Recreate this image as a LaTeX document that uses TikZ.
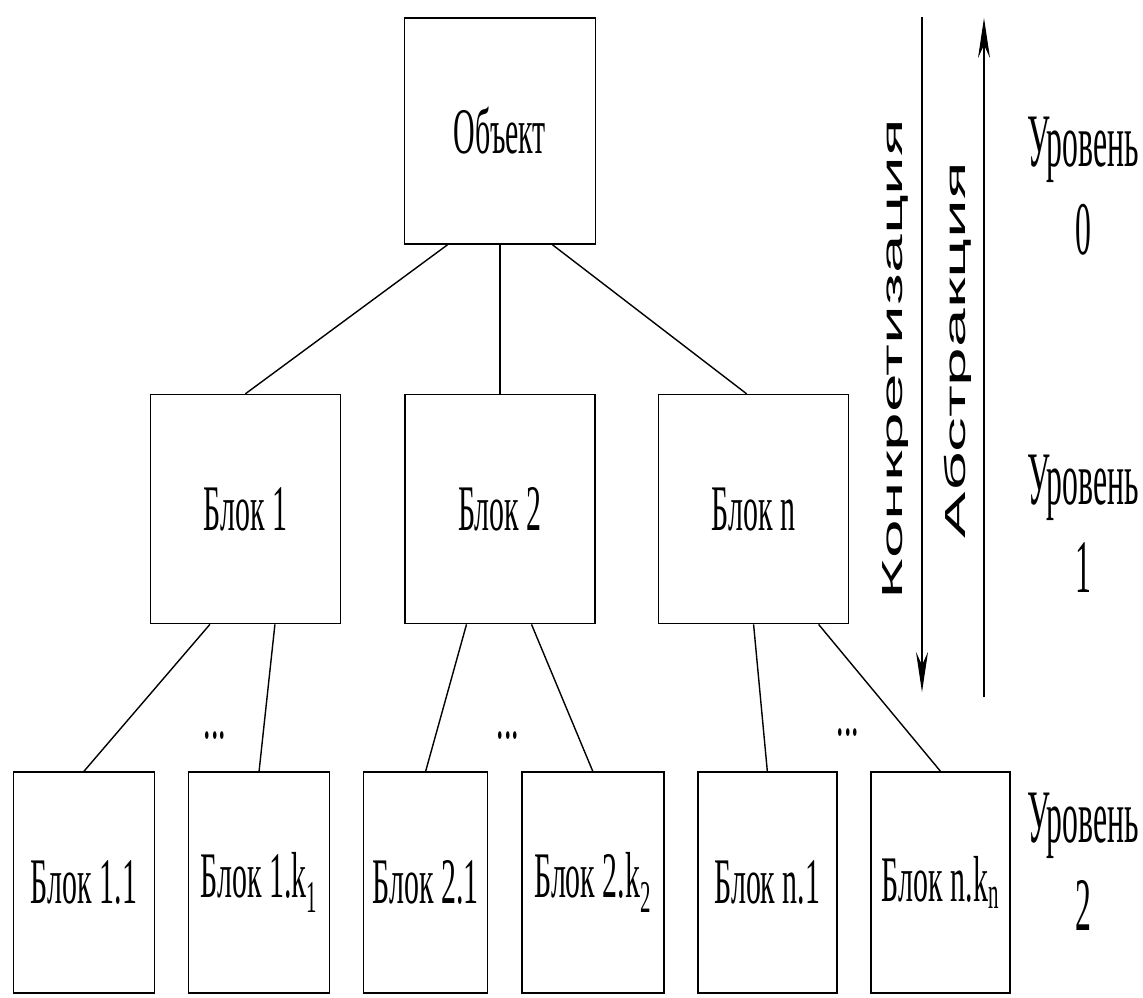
\documentclass[tikz,border=0pt]{standalone}
\usepackage{fontspec}
\setmainfont{Liberation Serif}
\newfontfamily\sansfnt{Liberation Sans}
\usepackage{graphicx}
\usetikzlibrary{arrows.meta,positioning}

\newcommand{\sqz}[2][0.46]{\scalebox{#1}[1]{#2}}
\newcommand{\strch}[1]{\scalebox{2.4}[1]{#1}}

\begin{document}
\begin{tikzpicture}[
    node distance = 0.65cm,
    every node/.style = {align=center},
    blockbox/.style = {draw, line width=0.9pt, inner sep=0pt,
      font=\fontsize{37}{44}\selectfont},
    midbox/.style = {blockbox, minimum width=3.8cm, minimum height=4.58cm},
    leafbox/.style = {blockbox, minimum width=2.82cm, minimum height=4.42cm},
    link/.style = {line width=0.8pt},
    dirlabel/.style = {rotate=90, inner sep=0pt,
      font=\sansfnt\fontsize{16.5}{20}\selectfont},
    levellabel/.style = {inner sep=0pt, font=\fontsize{43}{50}\selectfont},
    >={Stealth[length=8mm,width=2.4mm]}
  ]
  \useasboundingbox (0,0) rectangle (22.86,-19.94);

  % level 0
  \node[blockbox, minimum width=3.82cm, minimum height=4.52cm] (obj) at (10,-2.62) {\sqz{Объект}};

  % level 1
  \node[midbox] (b2) [below=2.98cm of obj] {\sqz{Блок 2}};
  \node[midbox] (b1) [left=1.26cm of b2] {\sqz{Блок 1}};
  \node[midbox] (bn) [right=1.24cm of b2] {\sqz{Блок n}};

  % level 2
  \node[leafbox] (b11) at (1.68,-17.65) {\sqz{Блок 1.1}};
  \node[leafbox] (b1k) [right=of b11] {\sqz{Блок 1.k\textsubscript{1}}};
  \node[leafbox, minimum width=2.48cm] (b21) [right=of b1k] {\sqz{Блок 2.1}};
  \node[leafbox, minimum width=2.84cm] (b2k) [right=of b21] {\sqz{Блок 2.k\textsubscript{2}}};
  \node[leafbox, minimum width=2.78cm] (bn1) [right=of b2k] {\sqz{Блок n.1}};
  \node[leafbox, minimum width=2.78cm] (bnk) [right=of bn1] {\sqz{Блок n.k\textsubscript{n}}};

  \node[blockbox, draw=none] (dots1) at (4.30,-14.72) {\sqz{...}};
  \node[blockbox, draw=none] (dots2) at (10.16,-14.72) {\sqz{...}};
  \node[blockbox, draw=none] (dots3) at (16.96,-14.66) {\sqz{...}};

  \draw[link] ([xshift=-1.05cm]obj.south) -- (b1.north);
  \draw[link] (obj.south) -- (b2.north);
  \draw[link] ([xshift=1.05cm]obj.south) -- ([xshift=-0.14cm]bn.north);
  \draw[link] ([xshift=-0.71cm]b1.south) -- (b11.north);
  \draw[link] ([xshift=0.59cm]b1.south) -- (b1k.north);
  \draw[link] ([xshift=-0.67cm]b2.south) -- (b21.north);
  \draw[link] ([xshift=0.63cm]b2.south) -- (b2k.north);
  \draw[link] (bn.south) -- (bn1.north);
  \draw[link] ([xshift=1.3cm]bn.south) -- (bnk.north);

  % directions
  \coordinate (ktop) at (18.44,-0.34);
  \coordinate (kbot) at (18.44,-13.84);
  \coordinate (abot) at (19.68,-13.94);
  \coordinate (atop) at (19.68,-0.36);
  \draw[->, line width=0.6pt] (ktop) -- (kbot);
  \draw[->, line width=0.6pt] (abot) -- (atop);
  \node[dirlabel] (konkr) at (17.91,-7.18) {\strch{Конкретизация}};
  \node[dirlabel] (abstr) at (19.16,-7.00) {\strch{Абстракция}};

  % levels
  \node[levellabel] (lev0) at (21.66,-3.72) {\sqz[0.42]{Уровень}\\\sqz[0.42]{0}};
  \node[levellabel] (lev1) at (21.66,-10.48) {\sqz[0.42]{Уровень}\\\sqz[0.42]{1}};
  \node[levellabel] (lev2) at (21.66,-17.24) {\sqz[0.42]{Уровень}\\\sqz[0.42]{2}};

\end{tikzpicture}
\end{document}
